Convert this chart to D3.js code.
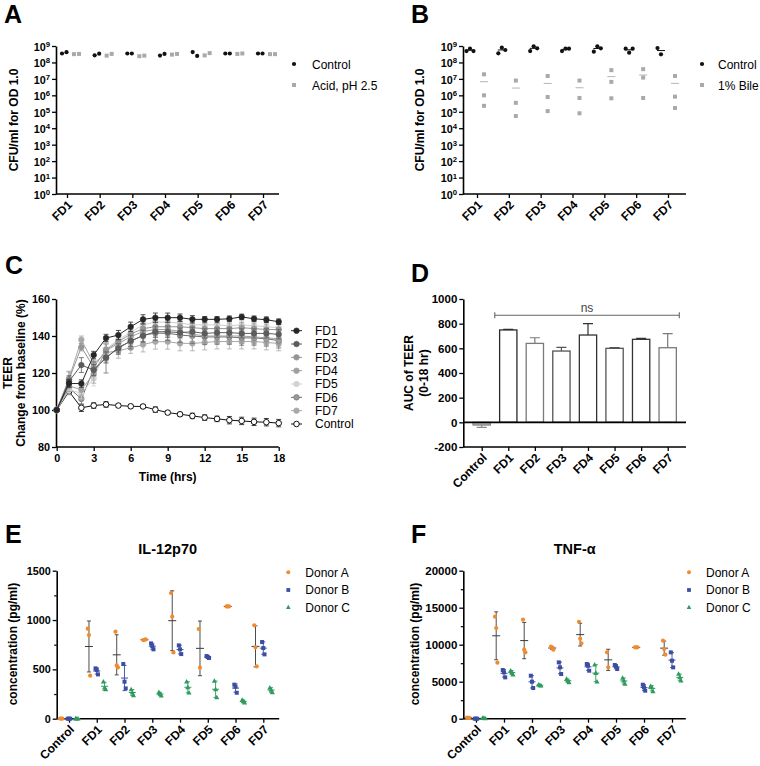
<!DOCTYPE html>
<html><head><meta charset="utf-8">
<script src="https://cdn.jsdelivr.net/npm/d3@7"></script>
<style>body{margin:0;background:#fff}</style>
</head><body><svg id="c" width="760" height="766"></svg>
<script>
// ---------------- DATA ----------------
const strains = ["FD1","FD2","FD3","FD4","FD5","FD6","FD7"];
const catsCtl = ["Control","FD1","FD2","FD3","FD4","FD5","FD6","FD7"];
const logTicks = [1,1e1,1e2,1e3,1e4,1e5,1e6,1e7,1e8,1e9];

// Panel A (CFU/ml)
const acidControl = [[3.5e8,4.2e8],[2.7e8,3.4e8],[3.5e8,3.5e8],[2.6e8,3.3e8],[4.3e8,2.5e8],[3.5e8,3.5e8],[3.5e8,3.5e8]];
const acidTreated = [[3.2e8,3.3e8],[2.6e8,3.3e8],[2.4e8,2.6e8],[3.0e8,3.3e8],[2.7e8,3.7e8],[3.3e8,3.5e8],[3.2e8,3.2e8]];
// Panel B
const bileControl = [[4.9e8,6.9e8,4.9e8],[3.6e8,7.9e8,5.7e8],[4.9e8,9.5e8,7.2e8],[4.9e8,6.9e8,6.9e8],[4.5e8,9.5e8,7.2e8],[6.9e8,3.9e8,6.9e8],[7.5e8,3.1e8]];
const bileTreated = [[1.9e7,1.0e6,2.3e5],[7.9e6,3.5e5,5.5e4],[1.5e7,7.9e5,1.1e5],[7.9e6,6.9e5,8.1e4],[3.4e7,6.6e6,6.6e5],[3.9e7,1.2e7,6.9e5],[1.5e7,8.3e5,1.7e5]];

// Panel C (TEER, % of baseline)
const hours = [0,1,2,3,4,5,6,7,8,9,10,11,12,13,14,15,16,17,18];
const teerFD1 = [100,114.3,114.3,129.7,138.9,140.5,145,149,149.9,149.9,149.9,149,149,149,149.3,150.3,149.3,148.8,147.7];
const teerFD2 = [100,115.5,124.3,121.6,128.4,133.3,137.4,140.1,142.3,142.3,141.8,142.3,141.4,141.8,141.8,141.4,141.4,141.4,140.9];
const teerFD3 = [100,116.5,134,123,132.5,137,141,144,145,145,145,144.5,144,144,144,144.5,144,143.5,143.5];
const teerFD4 = [100,113,111,119.5,132,136,139.5,142.5,143.5,143.5,142.5,141,140,140,140,140,139.5,139,138.5];
const teerFD5 = [100,111,109,117,133,138,142,146,147.5,147.5,147,146,146,146,145.5,146,145.5,145,144.5];
const teerFD6 = [100,112,106,122,128,134,137,140.5,141.5,141.5,140.5,140,139.5,139.5,139.5,139,139,138.5,137.5];
const teerFD7 = [100,117,138,125,131,132,133.6,135.4,136.9,136.9,136,136,136.5,137,137,137,137,136.5,136];
const teerCtl = [100,110,101.2,102.4,103,102.4,102,101.9,100.2,98.6,97.7,96.8,95.9,95.2,94.5,94.1,93.6,93.4,92.9];
const sdFD1 = [0,2,2,2,2,2.5,2.5,2.5,2.5,2.5,2,2,1.5,1.5,1.5,1.5,1.5,1.5,1.5];
const sdFD2 = [0,3,4,3,3,2.5,3,3,3,3,2.5,2.5,2.5,2.5,2.5,2.5,2.5,2.5,2.5];
const sdFD3 = [0,4,2,4,3,3,3,3.5,3.5,3.5,3,3,3,3,3,3,3,3,3];
const sdFD4 = [0,3,3,5,5,4,4,4,4,4,4,4,4,4,4,4,4,4,4];
const sdFD5 = [0,3,3,4,3,3,3,3,3,3,3,3,3,3,3,3,3,3,3];
const sdFD6 = [0,3,3,4,8,4,4,4,4,4,4,4,4,4,4,4,4,4,4];
const sdFD7 = [0,4,2,5,5,4,3,4,4,4,4,4,4,4,4,4,4,4,4];
const sdCtl = [0,1,2,1.5,1.5,1,1,1,1.5,1,1,1.5,1.5,1.5,2,2,2,2,2];

// Panel D (AUC)
const aucMean = [-22,749,640,578,708,600,673,605];
const aucSD = [19,5,46,30,92,5,8,114];

// Panel E (IL-12p70, pg/ml)
const il12A = [[2,0,1],[912,848,436],[882,540,520],[797,800,803],[1274,1034,672],[909,517],[1138,1138,1138],[946,723,530]];
const il12B = [[0,0,0],[510,493,449],[554,375,307],[763,736,703],[743,703,655],[635,625,615],[345,324,263],[777,716,652]];
const il12C = [[1,0,0],[375,314,297],[297,263,236],[267,250,233],[375,318,263],[382,297,216],[189,176,162],[314,291,267]];
// Panel F (TNF-alpha, pg/ml)
const tnfA = [[150,120,100],[13785,12250,7570],[13380,9325,8965],[9730,9595,9325],[13100,10810,10180],[8965,6940],[9640,9640,9640],[10540,9415,8650]];
const tnfB = [[0,0,0],[6577,6260,5586],[5811,5000,4145],[7613,6938,6036],[7388,7163,6487],[7253,7073,6712],[4595,4235,3785],[8965,7839,6938]];
const tnfC = [[80,60,50],[6487,6260,5947],[4595,4505,4460],[5361,5136,4910],[7298,6170,5000],[5496,5136,4685],[4370,4235,3694],[6036,5586,5136]];

// ---------------- DRAWING ----------------
const F = '"Liberation Sans", Arial, Helvetica, sans-serif';
const svg = d3.select("#c").attr("font-family", F);

function letter(t, x, y) {
  svg.append("text").attr("x", x).attr("y", y).attr("font-size", 25).attr("font-weight", "bold").attr("fill", "#000").text(t);
}
function styleAxis(g, fs) {
  g.select(".domain").attr("stroke", "#000").attr("stroke-width", 1.6);
  g.selectAll(".tick line").attr("stroke", "#000").attr("stroke-width", 1.3);
  g.selectAll("text").attr("font-family", F).attr("font-size", fs).attr("font-weight", "bold").attr("fill", "#000");
}
function yAxis(scale, x, values, fs, minor) {
  const g = svg.append("g").attr("transform", `translate(${x},0)`);
  g.call(d3.axisLeft(scale).tickValues(values).tickSize(4).tickSizeOuter(0).tickPadding(2).tickFormat(d => String(d)));
  styleAxis(g, fs);
  if (minor) {
    const m = svg.append("g").attr("transform", `translate(${x},0)`)
      .call(d3.axisLeft(scale).tickValues(minor).tickSize(2.5).tickFormat(""));
    m.select(".domain").remove();
    m.selectAll("line").attr("stroke", "#000").attr("stroke-width", 1.2);
  }
  return g;
}
function logYAxis(scale, x, fs) {
  const g = svg.append("g").attr("transform", `translate(${x},0)`);
  g.call(d3.axisLeft(scale).tickValues(logTicks).tickSize(4).tickSizeOuter(0).tickFormat(""));
  styleAxis(g, fs);
  logTicks.forEach(v => {
    const t = g.append("text").attr("x", -6).attr("y", scale(v)).attr("dy", "0.45em")
      .attr("text-anchor", "end").attr("font-size", fs).attr("font-weight", "bold").attr("fill", "#000");
    t.append("tspan").text("10");
    t.append("tspan").attr("dy", "-0.5em").attr("font-size", fs * 0.72).text(Math.round(Math.log10(v)));
  });
}
function catXAxis(scale, y, x0, x1, fs) {
  const g = svg.append("g").attr("transform", `translate(0,${y})`);
  g.call(d3.axisBottom(scale).tickSize(4).tickSizeOuter(0).tickFormat(""));
  g.select(".domain").remove();
  g.selectAll(".tick line").attr("stroke", "#000").attr("stroke-width", 1.3);
  g.append("line").attr("x1", x0).attr("x2", x1).attr("stroke", "#000").attr("stroke-width", 1.6);
  scale.domain().forEach(c => {
    g.append("text").attr("transform", `translate(${scale(c) + 3},${8.5}) rotate(-45)`)
      .attr("text-anchor", "end").attr("dy", "0.35em").attr("fill", "#000")
      .attr("font-size", fs).attr("font-weight", "bold").text(c);
  });
}
function yLabel(lines, x, cy, fs) {
  lines.forEach((l, i) => {
    svg.append("text").attr("transform", `translate(${x[i]},${cy}) rotate(-90)`)
      .attr("text-anchor", "middle").attr("dy", "0.35em").attr("fill", "#000")
      .attr("font-size", fs).attr("font-weight", "bold").text(l);
  });
}
function square(g, x, y, s, fill) {
  g.append("rect").attr("x", x - s / 2).attr("y", y - s / 2).attr("width", s).attr("height", s).attr("fill", fill);
}
function triangle(g, x, y, s, fill) {
  g.append("path").attr("d", `M${x},${y - s * 0.6}L${x + s * 0.55},${y + s * 0.4}L${x - s * 0.55},${y + s * 0.4}Z`).attr("fill", fill);
}

// ===== Panel A =====
letter("A", 4, 23);
const xA = d3.scalePoint().domain(strains).range([67, 263]);
const yA = d3.scaleLog().domain([1, 1e9]).range([194, 46]);
logYAxis(yA, 56, 10.8);
catXAxis(xA, 194, 56, 279, 12);
yLabel(["CFU/ml for OD 1.0"], [13.5], 120, 12);
{
  const g = svg.append("g");
  strains.forEach((s, i) => {
    acidControl[i].forEach((v, j) => g.append("circle").attr("cx", xA(s) - 5 + j * 4.5).attr("cy", yA(v)).attr("r", 2.1).attr("fill", "#111"));
    acidTreated[i].forEach((v, j) => square(g, xA(s) + 7 + j * 5, yA(v), 4, "#a9a9a9"));
  });
  g.append("circle").attr("cx", 294).attr("cy", 64).attr("r", 2.1).attr("fill", "#111");
  square(g, 294, 85, 4, "#a9a9a9");
  g.append("text").attr("x", 312).attr("y", 68.5).attr("font-size", 12).text("Control");
  g.append("text").attr("x", 312).attr("y", 89.5).attr("font-size", 12).text("Acid, pH 2.5");
}

// ===== Panel B =====
letter("B", 411, 23);
const xB = d3.scalePoint().domain(strains).range([477, 668]);
const yB = d3.scaleLog().domain([1, 1e9]).range([194, 46]);
logYAxis(yB, 463, 10.8);
catXAxis(xB, 194, 463, 686, 12);
yLabel(["CFU/ml for OD 1.0"], [420], 120, 12);
{
  const g = svg.append("g");
  strains.forEach((s, i) => {
    const cx = xB(s) - 7, bx = xB(s) + 7;
    const mc = d3.mean(bileControl[i]);
    g.append("line").attr("x1", cx - 4).attr("x2", cx + 4).attr("y1", yB(mc)).attr("y2", yB(mc)).attr("stroke", "#111").attr("stroke-width", 1);
    bileControl[i].forEach((v, j) => g.append("circle").attr("cx", cx + (j - 1) * 3.5).attr("cy", yB(v)).attr("r", 2.1).attr("fill", "#111"));
    const mb = d3.mean(bileTreated[i]);
    g.append("line").attr("x1", bx - 4).attr("x2", bx + 4).attr("y1", yB(mb)).attr("y2", yB(mb)).attr("stroke", "#b5b5b5").attr("stroke-width", 1);
    bileTreated[i].forEach(v => square(g, bx, yB(v), 4, "#a9a9a9"));
  });
  g.append("circle").attr("cx", 702).attr("cy", 64).attr("r", 2.1).attr("fill", "#111");
  square(g, 702, 85, 4, "#a9a9a9");
  g.append("text").attr("x", 718).attr("y", 68.5).attr("font-size", 12).text("Control");
  g.append("text").attr("x", 718).attr("y", 89.5).attr("font-size", 12).text("1% Bile");
}

// ===== Panel C =====
letter("C", 5, 274);
const xC = d3.scaleLinear().domain([0, 18]).range([56.7, 278.7]);
const yC = d3.scaleLinear().domain([80, 160]).range([447, 299]);
yAxis(yC, 56, [80, 100, 120, 140, 160], 10.8);
{
  const g = svg.append("g").attr("transform", `translate(0,447)`);
  g.call(d3.axisBottom(xC).tickValues([0, 3, 6, 9, 12, 15, 18]).tickSize(4).tickSizeOuter(0).tickPadding(3));
  styleAxis(g, 10.8);
  g.select(".domain").attr("d", `M56,0H278.7`);
  svg.append("text").attr("x", 167.7).attr("y", 481).attr("text-anchor", "middle").attr("font-size", 12).attr("font-weight", "bold").text("Time (hrs)");
}
yLabel(["TEER", "Change from baseline (%)"], [7.5, 21], 373, 12);
{
  const series = [
    { name: "FD1", v: teerFD1, sd: sdFD1, c: "#262626", f: "#262626" },
    { name: "FD2", v: teerFD2, sd: sdFD2, c: "#5c5c5c", f: "#5c5c5c" },
    { name: "FD3", v: teerFD3, sd: sdFD3, c: "#959595", f: "#959595" },
    { name: "FD4", v: teerFD4, sd: sdFD4, c: "#a0a0a0", f: "#a0a0a0" },
    { name: "FD5", v: teerFD5, sd: sdFD5, c: "#cfcfcf", f: "#d2d2d2" },
    { name: "FD6", v: teerFD6, sd: sdFD6, c: "#6e6e6e", f: "#9a9a9a" },
    { name: "FD7", v: teerFD7, sd: sdFD7, c: "#a8a8a8", f: "#a8a8a8" },
    { name: "Control", v: teerCtl, sd: sdCtl, c: "#111", f: "#fff" }
  ];
  const g = svg.append("g");
  const line = d3.line().x((d, i) => xC(hours[i])).y(d => yC(d));
  const order = [7, 6, 5, 4, 3, 2, 1, 0];
  order.forEach(k => {
    const s = series[k];
    const sg = g.append("g");
    sg.append("path").attr("d", line(s.v)).attr("fill", "none").attr("stroke", s.c).attr("stroke-width", 1);
    s.v.forEach((v, i) => {
      const e = s.sd[i];
      if (e > 0) {
        const x = xC(hours[i]);
        sg.append("path").attr("d", `M${x},${yC(v - e)}V${yC(v + e)}M${x - 2.5},${yC(v - e)}H${x + 2.5}M${x - 2.5},${yC(v + e)}H${x + 2.5}`)
          .attr("stroke", s.c).attr("stroke-width", 0.8).attr("fill", "none");
      }
    });
    s.v.forEach((v, i) => {
      sg.append("circle").attr("cx", xC(hours[i])).attr("cy", yC(v)).attr("r", 2.8)
        .attr("fill", s.f).attr("stroke", s.c).attr("stroke-width", k === 7 ? 1 : 0.6);
    });
  });
  series.forEach((s, i) => {
    const y = 330.7 + i * 13.33;
    g.append("line").attr("x1", 291).attr("x2", 302).attr("y1", y).attr("y2", y).attr("stroke", s.c).attr("stroke-width", 1);
    g.append("circle").attr("cx", 296.5).attr("cy", y).attr("r", 2.8).attr("fill", s.f).attr("stroke", s.c).attr("stroke-width", i === 7 ? 1 : 0.6);
    g.append("text").attr("x", 315).attr("y", y + 4.3).attr("font-size", 12).text(s.name);
  });
}

// ===== Panel D =====
letter("D", 411, 282);
const xD = d3.scalePoint().domain(catsCtl).range([481.7, 667.7]);
const yD = d3.scaleLinear().domain([-200, 1000]).range([447, 299]);
yAxis(yD, 463.3, [-200, 0, 200, 400, 600, 800, 1000], 11.5);
catXAxis(xD, 447, 463.3, 686, 12);
yLabel(["AUC of TEER", "(0-18 hr)"], [409, 423.5], 373, 12);
{
  const g = svg.append("g");
  const strokes = ["#8a8a8a", "#2a2a2a", "#7a7a7a", "#555", "#333", "#555", "#333", "#7a7a7a"];
  const bw = 17.3;
  catsCtl.forEach((c, i) => {
    const m = aucMean[i], e = aucSD[i], x = xD(c);
    const tip = m >= 0 ? m + e : m - e;
    g.append("path").attr("d", `M${x},${yD(m)}V${yD(tip)}M${x - 5},${yD(tip)}H${x + 5}`)
      .attr("stroke", strokes[i]).attr("stroke-width", 1.2).attr("fill", "none");
    g.append("rect").attr("x", x - bw / 2).attr("width", bw)
      .attr("y", Math.min(yD(m), yD(0))).attr("height", Math.abs(yD(m) - yD(0)))
      .attr("fill", i === 0 ? "#b0b0b0" : "#fff").attr("stroke", strokes[i]).attr("stroke-width", 1.3);
  });
  g.append("line").attr("x1", 463.3).attr("x2", 686).attr("y1", yD(0)).attr("y2", yD(0)).attr("stroke", "#000").attr("stroke-width", 1.6);
  const bx0 = xD("FD1") - 13.5, bx1 = xD("FD7") + 11.6, by = 315.3;
  g.append("path").attr("d", `M${bx0},${by}H${bx1}M${bx0},${by - 3}V${by + 3}M${bx1},${by - 3}V${by + 3}`)
    .attr("stroke", "#666").attr("stroke-width", 1.1).attr("fill", "none");
  g.append("text").attr("x", (bx0 + bx1) / 2).attr("y", 312).attr("text-anchor", "middle").attr("font-size", 12).attr("fill", "#444").text("ns");
}

// ===== Panels E & F =====
const donorColors = ["#f08c2e", "#3b4ea3", "#2f9a5e"];
const barColors = ["#3a3a3a", "#3b4ea3", "#2f9a5e"];
function cytokinePanel(xs, ys, axisX, data, title, titleX, ticks, minor, legendX, labelX, fs) {
  yAxis(ys, axisX, ticks, fs, minor);
  catXAxis(xs, 718.7, axisX, axisX + 222.5, 12);
  yLabel(["concentration (pg/ml)"], [labelX], 644, 12);
  svg.append("text").attr("x", titleX).attr("y", 553.5).attr("text-anchor", "middle")
    .attr("font-size", 14.5).attr("font-weight", "bold").text(title);
  const g = svg.append("g");
  const offs = [-7.8, 0, 7.8];
  data.forEach((donor, d) => {
    catsCtl.forEach((c, i) => {
      const vals = donor[i];
      const x = xs(c) + offs[d];
      const m = d3.mean(vals);
      const sd = vals.length > 1 ? d3.deviation(vals) : 0;
      const hw = d === 0 ? 4 : 3.5;
      if (sd > 0) {
        g.append("path").attr("d", `M${x},${ys(m - sd)}V${ys(m + sd)}M${x - 2},${ys(m - sd)}H${x + 2}M${x - 2},${ys(m + sd)}H${x + 2}`)
          .attr("stroke", barColors[d]).attr("stroke-width", 0.9).attr("fill", "none");
      }
      g.append("line").attr("x1", x - hw).attr("x2", x + hw).attr("y1", ys(m)).attr("y2", ys(m))
        .attr("stroke", barColors[d]).attr("stroke-width", 1);
      vals.forEach((v, j) => {
        const px = x + (j - 1) * 1.2;
        if (d === 0) g.append("circle").attr("cx", px).attr("cy", ys(v)).attr("r", 2.1).attr("fill", donorColors[0]);
        else if (d === 1) square(g, px, ys(v), 4, donorColors[1]);
        else triangle(g, px, ys(v), 4.6, donorColors[2]);
      });
    });
  });
  const names = ["Donor A", "Donor B", "Donor C"];
  const ly = [572.3, 590, 607.3];
  names.forEach((n, d) => {
    if (d === 0) g.append("circle").attr("cx", legendX).attr("cy", ly[d]).attr("r", 2).attr("fill", donorColors[0]);
    else if (d === 1) square(g, legendX, ly[d], 3.8, donorColors[1]);
    else triangle(g, legendX, ly[d], 4.2, donorColors[2]);
    g.append("text").attr("x", legendX + 17).attr("y", ly[d] + 4.3).attr("font-size", 12).text(n);
  });
}
letter("E", 5, 543);
const xE = d3.scalePoint().domain(catsCtl).range([69, 263.3]);
const yE = d3.scaleLinear().domain([0, 1500]).range([718.7, 570.7]);
cytokinePanel(xE, yE, 56.7, [il12A, il12B, il12C], "IL-12p70", 167.7, [0, 500, 1000, 1500], [250, 750, 1250], 288.3, 12.7, 10.8);

letter("F", 411, 543);
const xF = d3.scalePoint().domain(catsCtl).range([476, 672]);
const yF = d3.scaleLinear().domain([0, 20000]).range([718.7, 570.7]);
cytokinePanel(xF, yF, 463.3, [tnfA, tnfB, tnfC], "TNF-α", 574.7, [0, 5000, 10000, 15000, 20000], [2500, 7500, 12500, 17500], 689, 414.3, 11.5);
</script>
</body></html>
